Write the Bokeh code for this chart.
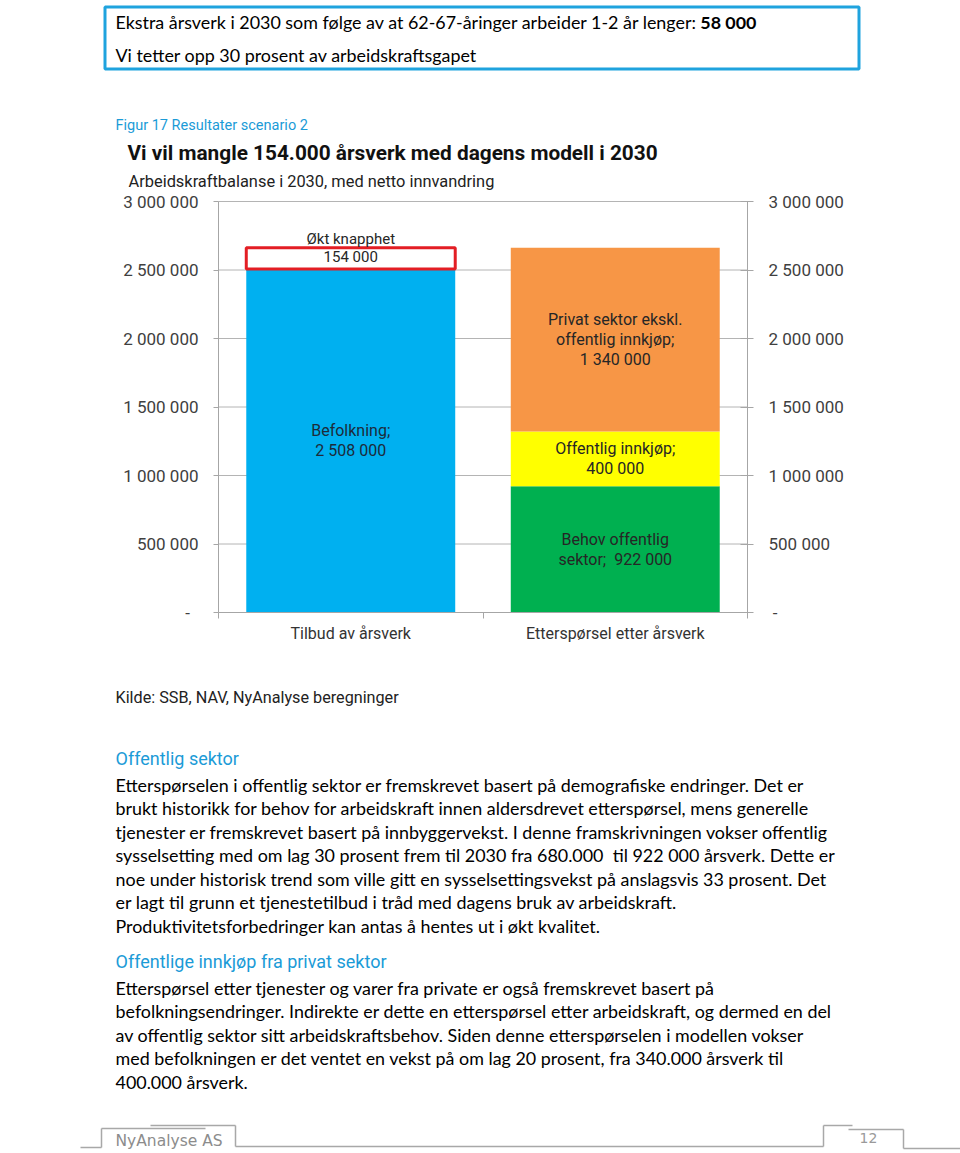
import numpy as np
from bokeh.plotting import figure
from bokeh.models import Range1d, FixedTicker, LinearAxis, ColumnDataSource
from bokeh.embed import file_html
from bokeh.resources import INLINE
from bokeh.core.properties import value

# ---------------- data ----------------
categories = ["Tilbud av årsverk", "Etterspørsel etter årsverk"]

supply_parts = ["Befolkning;\n", "Økt knapphet\n"]
supply_values = [2508000, 154000]

demand_parts = ["Behov offentlig\nsektor;\u00a0 ", "Offentlig innkjøp;\n", "Privat sektor ekskl.\noffentlig innkjøp;\n"]
demand_values = [922000, 400000, 1340000]

y_ticks = [0, 500000, 1000000, 1500000, 2000000, 2500000, 3000000]
y_tick_labels = ["-", "500 000", "1 000 000", "1 500 000", "2 000 000", "2 500 000", "3 000 000"]

box_lines = ["Ekstra årsverk i 2030 som følge av at 62-67-åringer arbeider 1-2 år lenger: ",
             "Vi tetter opp 30 prosent av arbeidskraftsgapet"]
box_bold = "58 000"

fig_caption = "Figur 17 Resultater scenario 2"
chart_title = "Vi vil mangle 154.000 årsverk med dagens modell i 2030"
chart_subtitle = "Arbeidskraftbalanse i 2030, med netto innvandring"
source_note = "Kilde: SSB, NAV, NyAnalyse beregninger"

heading1 = "Offentlig sektor"
para1 = [
    "Etterspørselen i offentlig sektor er fremskrevet basert på demografiske endringer. Det er",
    "brukt historikk for behov for arbeidskraft innen aldersdrevet etterspørsel, mens generelle",
    "tjenester er fremskrevet basert på innbyggervekst. I denne framskrivningen vokser offentlig",
    "sysselsetting med om lag 30 prosent frem til 2030 fra 680.000 \u00a0til 922 000 årsverk. Dette er",
    "noe under historisk trend som ville gitt en sysselsettingsvekst på anslagsvis 33 prosent. Det",
    "er lagt til grunn et tjenestetilbud i tråd med dagens bruk av arbeidskraft.",
    "Produktivitetsforbedringer kan antas å hentes ut i økt kvalitet.",
]
heading2 = "Offentlige innkjøp fra privat sektor"
para2 = [
    "Etterspørsel etter tjenester og varer fra private er også fremskrevet basert på",
    "befolkningsendringer. Indirekte er dette en etterspørsel etter arbeidskraft, og dermed en del",
    "av offentlig sektor sitt arbeidskraftsbehov. Siden denne etterspørselen i modellen vokser",
    "med befolkningen er det ventet en vekst på om lag 20 prosent, fra 340.000 årsverk til",
    "400.000 årsverk.",
]
footer_name = "NyAnalyse AS"
page_number = "12"


def fmt(v):
    return f"{v:,}".replace(",", " ")


# ---------------- page geometry (px) ----------------
PW, PH = 960, 1153
FL, FR, FT, FB = 218, 747, 201, 612  # where the chart's axes sit on the page
NCAT = len(categories)
YMAX = 3000000


def data_x(px):
    return (px - FL) / (FR - FL) * NCAT


def data_y(py):
    return (FB - py) / (FB - FT) * YMAX


GRID = "#B4B4B4"
AX = "#A6A6A6"
CHART_FONT = "Roboto"
BODY_FONT = "Lato"
BLUE_TXT = "#1B9BD7"

p = figure(width=PW, height=PH,
           x_range=Range1d(data_x(0), data_x(PW)), y_range=Range1d(data_y(PH), data_y(0)),
           output_backend="svg", toolbar_location=None,
           x_axis_location=None, y_axis_location=None,
           min_border_left=0, min_border_right=0, min_border_top=0, min_border_bottom=0)
p.outline_line_color = None
p.background_fill_color = "white"
p.border_fill_color = "white"
p.xgrid.visible = False
p.ygrid.visible = False

# ---------------- axes (fixed at the chart's edges) ----------------
centers = [i + 0.5 for i in range(NCAT)]
xa = LinearAxis(fixed_location=0, bounds=(0, NCAT),
                ticker=FixedTicker(ticks=centers, minor_ticks=list(range(NCAT + 1))),
                major_label_overrides={c: cat for c, cat in zip(centers, categories)},
                axis_line_color=AX, major_tick_line_color=None, major_tick_out=0, major_tick_in=0,
                minor_tick_line_color=AX, minor_tick_out=6, minor_tick_in=0,
                major_label_standoff=5, major_label_text_font=CHART_FONT,
                major_label_text_font_size="16px", major_label_text_color="#333333")
p.add_layout(xa, "below")

ovl = {t: l for t, l in zip(y_ticks, y_tick_labels)}
ovl[0] = "-\u00a0\u00a0"
ya = LinearAxis(fixed_location=0, bounds=(0, YMAX), ticker=FixedTicker(ticks=y_ticks),
                major_label_overrides=ovl,
                axis_line_color=AX, major_tick_line_color=AX, major_tick_out=5, major_tick_in=0,
                minor_tick_line_color=None, major_label_standoff=15,
                major_label_text_font=CHART_FONT, major_label_text_font_size="17px",
                major_label_text_color="#404040")
p.add_layout(ya, "left")

ovr = {t: l for t, l in zip(y_ticks, y_tick_labels)}
ovr[0] = "\u00a0-"
yr = LinearAxis(fixed_location=NCAT, bounds=(0, YMAX), ticker=FixedTicker(ticks=y_ticks),
                major_label_overrides=ovr,
                axis_line_color=AX, major_tick_line_color=AX, major_tick_out=6, major_tick_in=7,
                minor_tick_line_color=None, major_label_standoff=15,
                major_label_text_font=CHART_FONT, major_label_text_font_size="17px",
                major_label_text_color="#404040")
p.add_layout(yr, "right")

# horizontal gridlines between the two axes
gl = p.segment(x0=[0] * (len(y_ticks) - 1), x1=[NCAT] * (len(y_ticks) - 1),
               y0=y_ticks[1:], y1=y_ticks[1:], line_color=GRID, line_width=1)
gl.level = "underlay"

# ---------------- bars ----------------
BW = 0.79
sv = np.array(supply_values)
s_top = np.cumsum(sv)
s_bot = s_top - sv
dv = np.array(demand_values)
d_top = np.cumsum(dv)
d_bot = d_top - dv

p.vbar(x=[centers[0]], bottom=[s_bot[0]], top=[s_top[0]], width=BW,
       fill_color="#00B0F0", line_color=None)
p.vbar(x=[centers[0]], bottom=[s_bot[1]], top=[s_top[1]], width=BW,
       fill_color="white", line_color="#E31E24", line_width=3)

dsrc = ColumnDataSource(dict(x=[centers[1]] * len(dv), bottom=d_bot, top=d_top,
                             color=["#00B050", "#FFFF00", "#F79646"]))
p.vbar(x="x", bottom="bottom", top="top", width=BW, fill_color="color", line_color=None, source=dsrc)

TF = value(CHART_FONT)
p.text(x=[centers[0]], y=[(s_bot[0] + s_top[0]) / 2], text=[supply_parts[0] + fmt(sv[0])],
       text_align="center", text_baseline="middle", text_font=TF, text_font_size="16px",
       text_color="#1d2b3a", text_line_height=1.05)
p.text(x=[centers[0]], y=[(s_bot[1] + s_top[1]) / 2], text=[supply_parts[1] + fmt(sv[1])],
       text_align="center", text_baseline="middle", text_font=TF, text_font_size="15px",
       text_color="#262626", y_offset=-10, text_line_height=1.0)
p.text(x=[centers[1]] * len(dv), y=list((d_bot + d_top) / 2),
       text=[a + fmt(v) for a, v in zip(demand_parts, dv)],
       text_align="center", text_baseline="middle", text_font=TF, text_font_size="16px",
       text_color="#262626", text_line_height=1.05)


# ---------------- page texts ----------------
def add_text(px, py, text, size, color="#000000", font=BODY_FONT, style="normal", align="left"):
    p.text(x=[data_x(px)], y=[data_y(py)], text=[text], text_font=value(font),
           text_font_size=f"{size}px", text_color=color, text_font_style=style,
           text_align=align, text_baseline="middle")


# top box
p.quad(left=[data_x(104.5)], right=[data_x(858.5)], top=[data_y(6.5)], bottom=[data_y(68.5)],
       fill_color=None, line_color="#1FA3DE", line_width=3)
add_text(115, 21, box_lines[0], 17.9)
add_text(756, 21, box_bold, 17.9, style="bold", align="right")
add_text(115, 54, box_lines[1], 17.9)

add_text(115, 125, fig_caption, 14.5, BLUE_TXT, CHART_FONT)
add_text(127, 152, chart_title, 20.8, "#111111", CHART_FONT, "bold")
add_text(128, 181, chart_subtitle, 16.4, "#222222", CHART_FONT)
add_text(115, 697, source_note, 16.2, "#222222", CHART_FONT)

add_text(115, 758, heading1, 18, BLUE_TXT, CHART_FONT)
for i, line in enumerate(para1):
    add_text(115, 784 + i * 23.5, line, 17.9)
add_text(115, 961, heading2, 18, BLUE_TXT, CHART_FONT)
for i, line in enumerate(para2):
    add_text(115, 987 + i * 23.5, line, 17.9)

# footer
FOOT = "#A8A8A8"
segments = [
    (80, 1147, 101, 1147), (101, 1128, 101, 1147), (101, 1128, 205, 1128),
    (150, 1125, 235, 1125), (235, 1125, 235, 1146), (235, 1146, 823, 1146),
    (823, 1125, 823, 1146), (823, 1125, 852, 1125), (848, 1129, 903, 1129),
    (903, 1129, 903, 1148), (903, 1148, 960, 1148),
]
p.segment(x0=[data_x(s[0]) for s in segments], y0=[data_y(s[1]) for s in segments],
          x1=[data_x(s[2]) for s in segments], y1=[data_y(s[3]) for s in segments],
          line_color=FOOT, line_width=1.5)
add_text(115, 1140, footer_name, 15.5, "#8C8C8C", "DejaVu Sans")
add_text(859, 1137, page_number, 14, "#9A9A9A", "DejaVu Sans")

open("out.html", "w").write(file_html(p, INLINE))
